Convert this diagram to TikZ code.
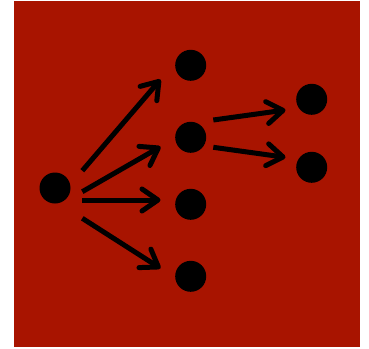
\documentclass[tikz,border=0pt]{standalone}
\usetikzlibrary{arrows.meta}
\definecolor{bgred}{RGB}{168,20,0}
\begin{document}
\begin{tikzpicture}[x=1pt,y=-1pt,
  dot/.style={circle,fill=black,inner sep=0pt,minimum size=31pt},
  arr/.style={line width=5pt,line cap=butt,-{Straight Barb[length=16pt,width=22pt,line cap=round,line join=round]}}]
\useasboundingbox (0,0) rectangle (369,348);
\fill[bgred] (14,1) rectangle (360,347);
\node[dot] (a) at (55,188) {};
\node[dot] (b1) at (190.7,65.3) {};
\node[dot] (b2) at (190.7,137.3) {};
\node[dot] (b3) at (190.7,204.3) {};
\node[dot] (b4) at (190.7,276.3) {};
\node[dot] (c1) at (311.7,99.3) {};
\node[dot] (c2) at (311.7,167.3) {};
\coordinate (s1) at (82.3,170.7);
\coordinate (e1) at (160.5,79.5);
\coordinate (s2) at (82.3,191.7);
\coordinate (e2) at (160.5,146.7);
\coordinate (s3) at (82.3,200);
\coordinate (e3) at (160.5,200);
\coordinate (s4) at (82.3,218.3);
\coordinate (e4) at (160.5,268.3);
\coordinate (s5) at (213.3,120);
\coordinate (e5) at (285.5,110);
\coordinate (s6) at (213.3,147.3);
\coordinate (e6) at (285.5,157.3);
\draw[arr] (s1) -- (e1);
\draw[arr] (s2) -- (e2);
\draw[arr] (s3) -- (e3);
\draw[arr] (s4) -- (e4);
\draw[arr] (s5) -- (e5);
\draw[arr] (s6) -- (e6);
\end{tikzpicture}
\end{document}
